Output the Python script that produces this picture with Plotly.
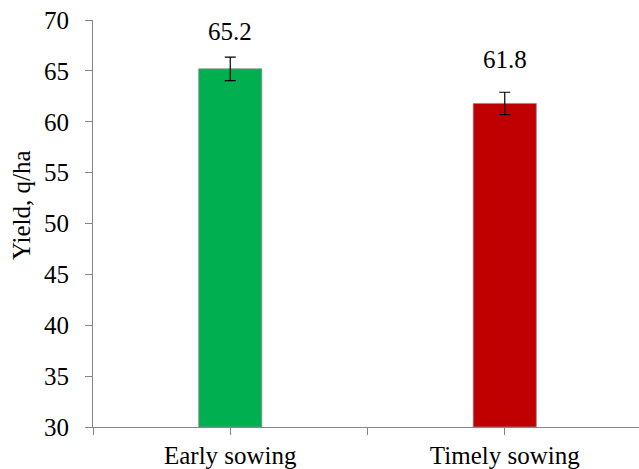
import plotly.graph_objects as go

categories = ["Early sowing", "Timely sowing"]
yields = [65.2, 61.8]
errors = [1.15, 1.1]
colors = ["#00B050", "#C00000"]
y_ticks = [30, 35, 40, 45, 50, 55, 60, 65, 70]
y_title = "Yield, q/ha"

xpos = list(range(len(categories)))
font_family = "Liberation Serif"
axis_color = "#868686"
fs = 25
label_offsets_px = [37, 44]

fig = go.Figure()
fig.add_trace(go.Bar(
    x=xpos, y=[v - 30 for v in yields], base=30,
    width=0.23,
    marker=dict(color=colors, line=dict(color="#8c8c8c", width=0.75)),
    error_y=dict(type="data", array=errors, visible=True, color="black",
                 thickness=1.2, width=5.5),
    hoverinfo="skip",
))

for x, v, off in zip(xpos, yields, label_offsets_px):
    fig.add_annotation(x=x, y=v, text=f"{v:.1f}", showarrow=False,
                       yshift=off, font=dict(family=font_family, size=fs, color="black"))

fig.add_annotation(xref="paper", yref="paper", x=-0.132, y=0.545, text=y_title,
                   textangle=-90, showarrow=False, xanchor="center", yanchor="middle",
                   font=dict(family=font_family, size=fs, color="black"))

tickvals_x = [-0.5, 0, 0.5, 1, 1.5]
ticktext_x = ["", categories[0], "", categories[1], ""]

fig.update_layout(
    width=639, height=469,
    margin=dict(l=93, r=0, t=20, b=42),
    plot_bgcolor="white", paper_bgcolor="white",
    showlegend=False,
    font=dict(family=font_family, size=fs, color="black"),
    xaxis=dict(range=[-0.5, 1.489], tickmode="array", tickvals=tickvals_x,
               ticktext=ticktext_x, ticks="outside", ticklen=7, tickcolor=axis_color,
               tickwidth=1.2, showline=True, linecolor=axis_color, linewidth=1.2,
               showgrid=False, zeroline=False, ticklabelstandoff=-1,
               automargin=False,
               tickfont=dict(family=font_family, size=fs)),
    yaxis=dict(range=[30, 70], tickmode="array", tickvals=y_ticks,
               ticks="outside", ticklen=7, tickcolor=axis_color, tickwidth=1.2,
               showline=True, linecolor=axis_color, linewidth=1.2,
               showgrid=False, zeroline=False, ticklabelstandoff=11,
               automargin=False,
               tickfont=dict(family=font_family, size=fs)),
)

fig.write_html("out.html", config={"displayModeBar": False},
               post_script="document.body.style.margin='0';")
